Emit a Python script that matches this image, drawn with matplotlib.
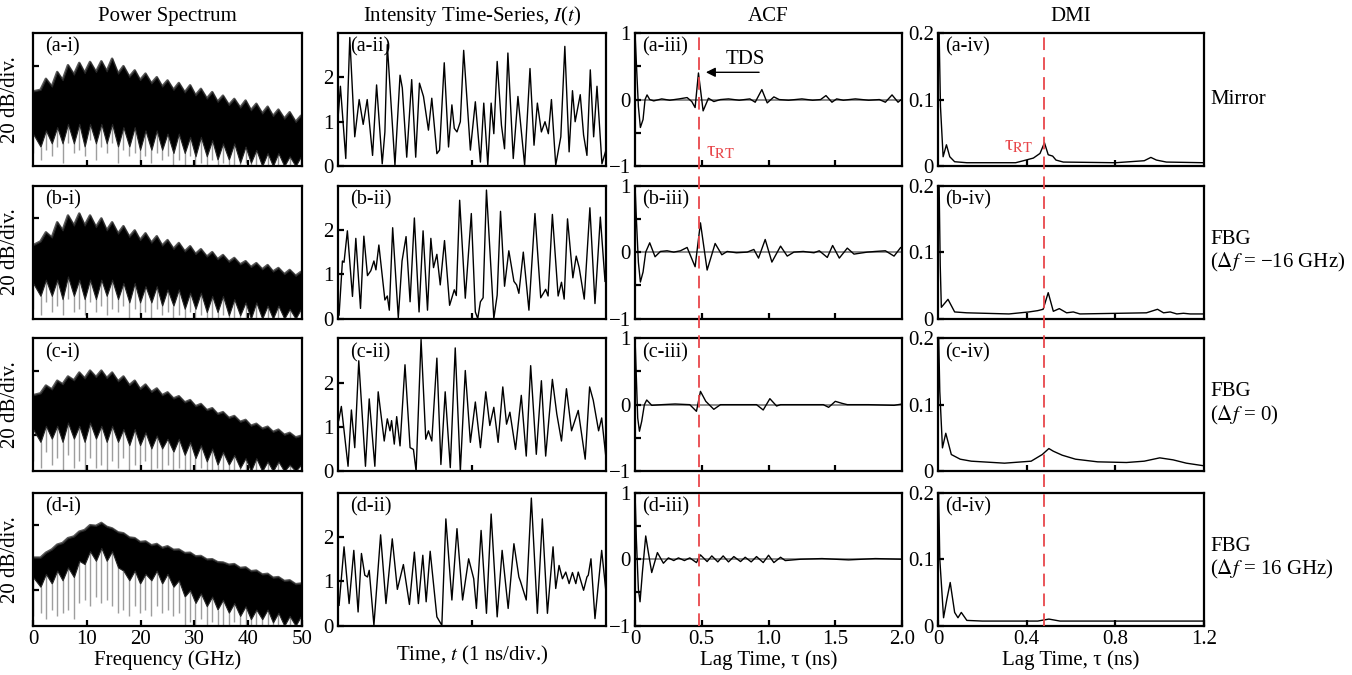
import matplotlib.pyplot as plt
import matplotlib.transforms as mtransforms
from matplotlib.lines import Line2D

plt.rcParams['font.family'] = ['Liberation Serif', 'DejaVu Serif']
plt.rcParams['mathtext.fontset'] = 'stix'
plt.rcParams['axes.linewidth'] = 1.6
plt.rcParams['xtick.direction'] = 'in'
plt.rcParams['ytick.direction'] = 'in'
plt.rcParams['xtick.major.size'] = 4
plt.rcParams['ytick.major.size'] = 4
plt.rcParams['ytick.minor.size'] = 4
plt.rcParams['xtick.major.width'] = 1.6
plt.rcParams['ytick.major.width'] = 1.6
plt.rcParams['ytick.minor.width'] = 1.6

# ---------------- power spectrum (dB, 20 dB/div) ----------------
ps_freq = [0.0, 1.4, 2.4, 3.5, 4.5, 5.5, 6.5, 7.6, 8.6, 9.6, 10.6, 11.7, 12.7, 13.7, 14.7,
           15.8, 16.8, 17.9, 18.9, 19.9, 20.9, 22.0, 23.0, 24.0, 25.0, 26.1, 27.1, 28.2,
           29.2, 30.2, 31.2, 32.3, 33.3, 34.3, 35.3, 36.4, 37.4, 38.5, 39.5, 40.5, 41.5,
           42.6, 43.6, 44.6, 45.6, 46.7, 47.7, 48.8, 49.8, 50.0]

ps_top_a = [-18.0, -17.5, -14.1, -16.5, -12.0, -14.5, -9.9, -12.8, -9.2, -12.3,
            -8.9, -12.0, -8.7, -11.8, -7.9, -12.5, -10.2, -13.5, -11.5, -14.5,
            -12.5, -15.5, -13.6, -16.5, -14.6, -17.5, -15.4, -18.3, -16.1, -19.2,
            -17.2, -20.2, -18.2, -21.2, -19.3, -22.2, -20.3, -23.0, -20.8, -23.8,
            -21.8, -24.8, -22.7, -25.6, -23.6, -26.4, -24.4, -27.4, -25.5, -27.0]
ps_low_a = [-31, -35, -30, -34, -29, -34, -28, -34, -28, -35,
            -28, -34, -28, -34, -28, -35, -29, -35, -29, -36,
            -30, -36, -30, -36, -31, -37, -31, -37, -32, -38,
            -32, -38, -33, -39, -34, -39, -34, -40, -35, -40,
            -36, -41, -37, -41, -37, -41, -38, -41, -38, -39]
ps_dip_a = [-37, -39, -36, -38, -35, -40, -34, -37, -36, -38,
            -33, -39, -35, -37, -34, -40, -36, -38, -37, -40,
            -38, -40, -37, -39, -38, -41, -39, -41, -38, -41,
            -40, -41, -39, -41, -40, -41, -41, -41, -40, -41,
            -41, -41, -41, -41, -41, -41, -41, -41, -41, -41]

ps_top_b = [-18.4, -17.2, -14.4, -16.0, -11.3, -13.8, -9.2, -12.3, -8.6, -12.3,
            -9.2, -12.8, -10.1, -13.8, -11.3, -14.8, -12.5, -15.8, -13.8, -16.8,
            -14.7, -17.6, -15.6, -18.5, -16.8, -19.5, -17.7, -20.3, -18.7, -21.1,
            -19.6, -21.9, -20.5, -22.7, -21.4, -23.5, -22.3, -24.3, -23.3, -25.1,
            -23.9, -25.8, -24.5, -26.5, -25.4, -27.3, -26.0, -27.8, -26.6, -28.0]
ps_low_b = [-30, -34, -29, -34, -29, -35, -28, -34, -29, -35,
            -29, -35, -29, -34, -29, -35, -30, -36, -30, -36,
            -31, -36, -31, -37, -32, -37, -32, -38, -33, -38,
            -33, -39, -34, -39, -34, -40, -35, -40, -36, -41,
            -36, -41, -37, -41, -37, -41, -38, -41, -38, -39]
ps_dip_b = [-38, -40, -36, -39, -37, -40, -35, -39, -38, -40,
            -36, -39, -37, -40, -38, -39, -37, -41, -38, -40,
            -39, -41, -38, -40, -39, -41, -40, -41, -39, -41,
            -40, -41, -41, -41, -40, -41, -41, -41, -41, -41,
            -41, -41, -41, -41, -41, -41, -41, -41, -41, -41]

ps_top_c = [-17.6, -17.0, -14.6, -15.8, -13.1, -14.2, -11.8, -13.0, -10.6, -12.4,
            -10.0, -12.0, -10.0, -12.3, -10.6, -13.3, -11.8, -14.5, -13.1, -15.7,
            -14.3, -16.6, -15.5, -17.6, -16.7, -18.6, -17.9, -19.8, -19.1, -21.0,
            -20.3, -22.2, -21.6, -23.4, -22.8, -24.6, -24.0, -25.8, -25.2, -27.0,
            -26.4, -27.9, -27.3, -28.9, -28.2, -29.8, -29.2, -30.6, -30.1, -30.5]
ps_low_c = [-28, -32, -27, -31, -27, -32, -26, -31, -27, -32,
            -26, -31, -27, -32, -27, -32, -28, -33, -28, -33,
            -29, -34, -30, -34, -31, -35, -31, -36, -32, -37,
            -33, -38, -34, -39, -35, -39, -36, -40, -37, -41,
            -37, -41, -38, -41, -38, -41, -39, -41, -39, -40]
ps_dip_c = [-38, -40, -35, -39, -37, -41, -36, -40, -38, -41,
            -37, -40, -39, -41, -38, -40, -37, -41, -39, -41,
            -38, -41, -40, -41, -39, -41, -40, -41, -41, -41,
            -40, -41, -41, -41, -41, -41, -41, -41, -41, -41,
            -41, -41, -41, -41, -41, -41, -41, -41, -41, -41]

ps_top_d = [-20.0, -20.0, -18.5, -17.5, -16.0, -15.5, -14.0, -13.5, -12.0, -11.5,
            -10.0, -10.2, -9.3, -10.5, -11.0, -12.2, -12.5, -13.8, -14.0, -15.2,
            -15.0, -16.2, -15.8, -17.0, -16.5, -17.6, -17.5, -18.6, -18.5, -19.6,
            -19.5, -20.6, -20.5, -21.4, -21.5, -22.2, -22.0, -23.2, -23.0, -24.2,
            -24.0, -25.2, -25.0, -26.2, -26.0, -27.2, -27.0, -28.2, -28.0, -28.5]
ps_low_d = [-26, -29, -25, -28, -24, -27, -23, -26, -21, -22,
            -18, -21, -17, -21, -18, -23, -24, -27, -24, -28,
            -25, -27, -24, -28, -25, -29, -27, -32, -30, -34,
            -31, -35, -32, -36, -33, -37, -34, -38, -35, -39,
            -36, -39, -36, -40, -37, -41, -38, -41, -38, -39]
ps_dip_d = [-38, -37, -39, -36, -38, -37, -36, -39, -34, -33,
            -35, -32, -34, -33, -35, -37, -36, -38, -35, -37,
            -36, -38, -35, -37, -36, -38, -37, -41, -40, -41,
            -39, -41, -40, -41, -41, -41, -40, -41, -41, -41,
            -41, -41, -41, -41, -41, -41, -41, -41, -41, -41]

# ---------------- intensity time series (time in ps) ----------------
ts_t_a = [0, 18, 58, 88, 125, 158, 188, 218, 258, 288, 330, 350, 368, 425, 463, 480, 513,
          550, 580, 608, 638, 675, 700, 738, 758, 793, 825, 850, 868, 888, 913, 938, 988,
          1025, 1063, 1088, 1118, 1143, 1163, 1188, 1220, 1243, 1268, 1308, 1343, 1393,
          1433, 1463, 1488, 1518, 1545, 1570, 1593, 1625, 1663, 1693, 1725, 1750, 1770,
          1808, 1833, 1858, 1883, 1908, 1933, 1970, 2000]
ts_i_a = [1.07, 1.8, 0.17, 2.9, 0.66, 1.5, 0.94, 1.5, 0.24, 1.83, 0.05, 0.77, 2.74, 0.02,
          2.05, 1.76, 0.2, 1.95, 0.2, 1.87, 1.57, 0.81, 1.53, 0.28, 0.36, 2.33, 0.43, 1.38,
          0.85, 0.77, 1.0, 2.61, 0.36, 1.45, 0.09, 1.42, 0.02, 1.42, 0.73, 2.36, 0.92, 0.39,
          2.55, 0.17, 1.57, 0.02, 2.2, 0.47, 1.42, 0.77, 1.0, 0.73, 1.5, 0.02, 0.66, 2.7,
          0.32, 1.7, 1.0, 1.61, 0.7, 0.24, 2.17, 0.66, 1.8, 0.05, 0.36]

ts_t_b = [8, 33, 45, 70, 108, 133, 168, 193, 220, 245, 268, 283, 305, 350, 368, 383, 408,
          450, 478, 508, 538, 570, 605, 635, 668, 693, 713, 738, 763, 795, 833, 868, 883,
          908, 950, 995, 1025, 1043, 1063, 1083, 1108, 1163, 1188, 1213, 1243, 1275, 1313,
          1333, 1350, 1383, 1425, 1470, 1513, 1550, 1568, 1600, 1643, 1668, 1688, 1713,
          1753, 1778, 1800, 1838, 1880, 1918, 1958, 1993]
ts_i_b = [0.08, 1.3, 1.27, 1.98, 0.5, 1.81, 0.23, 1.86, 0.97, 1.08, 1.3, 1.1, 1.66, 0.42,
          0.51, 0.19, 2.05, 0.02, 1.3, 1.85, 0.38, 2.27, 0.15, 1.98, 0.19, 1.81, 1.15, 1.45,
          0.76, 1.76, 0.3, 0.65, 0.52, 2.67, 0.46, 2.37, 0.15, 0.0, 0.38, 0.47, 2.9, 0.0,
          0.53, 2.42, 0.73, 1.53, 0.84, 0.76, 0.57, 1.5, 0.19, 2.37, 0.47, 0.66, 0.51, 2.35,
          0.51, 0.82, 0.44, 2.25, 0.92, 1.41, 1.15, 0.44, 2.5, 0.34, 2.29, 0.84]

ts_t_c = [5, 25, 75, 100, 125, 155, 205, 233, 275, 300, 345, 368, 388, 400, 420, 438, 463,
          500, 538, 563, 583, 620, 655, 675, 700, 738, 768, 800, 838, 875, 913, 950, 988,
          1025, 1063, 1103, 1133, 1163, 1195, 1230, 1258, 1283, 1325, 1368, 1405, 1438,
          1480, 1518, 1550, 1600, 1633, 1668, 1705, 1743, 1793, 1845, 1878, 1905, 1945,
          1968, 2000]
ts_i_c = [1.14, 1.46, 0.11, 1.38, 0.53, 2.49, 0.11, 1.63, 0.11, 1.79, 0.68, 1.18, 0.91,
          1.14, 0.61, 1.23, 0.57, 2.4, 0.53, 0.49, 0.0, 2.97, 0.72, 0.91, 0.68, 2.55, 0.15,
          1.79, 0.08, 2.78, 0.0, 2.27, 0.65, 1.56, 0.53, 1.79, 1.03, 1.44, 0.65, 1.9, 1.06,
          1.33, 0.49, 1.71, 0.34, 2.38, 0.38, 2.04, 0.34, 2.07, 1.29, 0.68, 1.86, 0.91,
          1.37, 0.27, 1.9, 1.6, 0.91, 1.2, 0.3]

ts_t_d = [8, 45, 83, 118, 150, 175, 200, 220, 233, 268, 318, 358, 405, 443, 488, 533, 570,
          600, 633, 658, 688, 738, 775, 805, 850, 888, 930, 975, 1013, 1033, 1068, 1108,
          1143, 1188, 1225, 1270, 1313, 1350, 1363, 1405, 1443, 1488, 1525, 1563, 1605,
          1625, 1650, 1675, 1700, 1725, 1750, 1775, 1793, 1833, 1858, 1868, 1888, 1918,
          1968, 2000]
ts_i_d = [0.46, 1.78, 0.5, 1.7, 0.31, 1.63, 1.14, 1.1, 1.25, 0.01, 2.05, 0.5, 1.96, 0.82,
          1.38, 0.48, 1.66, 0.5, 1.59, 0.54, 1.68, 0.2, 0.01, 2.41, 0.58, 2.19, 0.58, 1.51,
          1.06, 0.39, 2.15, 0.28, 2.52, 0.2, 1.7, 0.39, 1.85, 1.1, 0.99, 0.58, 2.88, 0.28,
          2.41, 0.28, 1.78, 0.84, 1.36, 1.06, 1.21, 0.95, 1.2, 0.95, 1.21, 0.8, 1.1, 1.14,
          1.51, 0.16, 1.7, 0.76]

# ---------------- ACF ----------------
acf_lag_a = [0, 0.01, 0.025, 0.04, 0.06, 0.075, 0.09, 0.11, 0.14, 0.2, 0.26, 0.33, 0.39,
             0.425, 0.45, 0.475, 0.51, 0.55, 0.59, 0.64, 0.7, 0.78, 0.86, 0.9, 0.95, 0.99,
             1.04, 1.08, 1.15, 1.25, 1.33, 1.39, 1.43, 1.475, 1.51, 1.56, 1.65, 1.75, 1.83,
             1.875, 1.925, 1.97, 2.0]
acf_val_a = [1.0, 0.55, -0.1, -0.42, -0.3, 0.0, 0.07, 0.0, -0.02, 0.01, -0.01, 0.01, 0.03,
             -0.03, -0.12, 0.40, -0.17, 0.02, -0.03, 0.0, 0.01, -0.01, 0.01, -0.04, 0.15,
             -0.05, 0.04, 0.0, -0.01, 0.01, -0.01, 0.0, 0.06, -0.04, 0.01, -0.01, 0.01,
             -0.01, 0.0, -0.04, 0.07, -0.04, 0.01]

acf_lag_b = [0, 0.01, 0.025, 0.04, 0.06, 0.08, 0.11, 0.15, 0.19, 0.24, 0.29, 0.34, 0.39,
             0.45, 0.49, 0.54, 0.6, 0.65, 0.69, 0.76, 0.84, 0.89, 0.925, 0.975, 1.025, 1.09,
             1.14, 1.19, 1.26, 1.34, 1.38, 1.44, 1.48, 1.53, 1.59, 1.64, 1.74, 1.8, 1.875,
             1.94, 1.99, 2.0]
acf_val_b = [1.0, 0.5, -0.15, -0.45, -0.3, 0.0, 0.14, -0.07, 0.01, 0.02, 0.0, 0.02, 0.07,
             -0.22, 0.44, -0.27, 0.13, -0.04, 0.01, -0.01, 0.0, 0.04, -0.09, 0.19, -0.15,
             0.09, -0.06, 0.0, 0.01, -0.01, 0.02, -0.08, 0.10, -0.09, 0.06, -0.03, 0.0, 0.01,
             0.02, -0.06, 0.07, 0.06]

acf_lag_c = [0, 0.01, 0.02, 0.033, 0.05, 0.07, 0.0875, 0.125, 0.2, 0.3, 0.41, 0.46, 0.49,
             0.53, 0.59, 0.64, 0.75, 0.91, 0.96, 1.01, 1.06, 1.09, 1.25, 1.41, 1.45, 1.5,
             1.55, 1.59, 1.75, 1.94, 2.0]
acf_val_c = [1.0, 0.4, -0.2, -0.4, -0.25, 0.0, 0.07, -0.01, 0.0, 0.01, 0.0, -0.1, 0.2,
             0.05, -0.07, 0.0, 0.0, 0.0, -0.08, 0.09, -0.02, 0.0, 0.0, 0.0, -0.04, 0.05,
             0.02, 0.0, 0.0, -0.01, 0.01]

acf_lag_d = [0, 0.01, 0.025, 0.0375, 0.055, 0.08, 0.1, 0.125, 0.1675, 0.2125, 0.25, 0.29,
             0.325, 0.37, 0.41, 0.46, 0.49, 0.54, 0.575, 0.62, 0.66, 0.7, 0.74, 0.79, 0.825,
             0.87, 0.91, 0.96, 1.0, 1.04, 1.09, 1.125, 1.24, 1.4, 1.6, 1.8, 2.0]
acf_val_d = [1.0, 0.3, -0.45, -0.64, -0.2, 0.35, 0.1, -0.2, 0.1, -0.06, 0.02, -0.02, 0.02,
             -0.02, 0.02, -0.05, 0.065, -0.035, 0.05, -0.04, 0.05, -0.04, 0.04, -0.035, 0.03,
             -0.04, 0.04, -0.05, 0.06, -0.05, 0.03, -0.02, 0.0, 0.01, -0.01, 0.01, 0.0]

# ---------------- DMI ----------------
dmi_lag_a = [0, 0.005, 0.011, 0.023, 0.038, 0.053, 0.075, 0.13, 0.35, 0.385, 0.43, 0.46,
             0.48, 0.497, 0.517, 0.532, 0.565, 0.8, 0.93, 0.96, 0.985, 1.03, 1.2]
dmi_val_a = [0.25, 0.2, 0.09, 0.014, 0.032, 0.014, 0.0065, 0.005, 0.005, 0.008, 0.012,
             0.019, 0.035, 0.017, 0.015, 0.009, 0.006, 0.005, 0.008, 0.013, 0.009, 0.006,
             0.005]

dmi_lag_b = [0, 0.005, 0.01, 0.015, 0.045, 0.075, 0.13, 0.32, 0.41, 0.45, 0.474, 0.497,
             0.52, 0.547, 0.58, 0.61, 0.64, 0.94, 0.99, 1.017, 1.047, 1.077, 1.107, 1.137,
             1.2]
dmi_val_b = [0.25, 0.2, 0.08, 0.017, 0.029, 0.010, 0.0087, 0.007, 0.010, 0.012, 0.014,
             0.039, 0.011, 0.015, 0.0087, 0.010, 0.007, 0.0087, 0.014, 0.0087, 0.010, 0.007,
             0.008, 0.007, 0.007]

dmi_lag_c = [0, 0.008, 0.02, 0.035, 0.06, 0.1, 0.15, 0.3, 0.42, 0.47, 0.5, 0.52, 0.56,
             0.62, 0.72, 0.85, 0.93, 1.0, 1.06, 1.12, 1.2]
dmi_val_c = [0.25, 0.12, 0.035, 0.057, 0.025, 0.018, 0.015, 0.012, 0.015, 0.025, 0.034,
             0.03, 0.024, 0.018, 0.014, 0.013, 0.015, 0.02, 0.017, 0.012, 0.008]

dmi_lag_d = [0, 0.008, 0.025, 0.04, 0.055, 0.075, 0.09, 0.105, 0.13, 0.2, 0.45, 0.5, 0.55,
             0.8, 1.2]
dmi_val_d = [0.25, 0.1, 0.012, 0.04, 0.065, 0.02, 0.012, 0.02, 0.008, 0.007, 0.007, 0.01,
             0.007, 0.007, 0.007]

tau_rt = 0.48
row_keys = ["a", "b", "c", "d"]
row_names = ["Mirror", "FBG\n($\\Delta f$ = \u221216 GHz)", "FBG\n($\\Delta f$ = 0)",
             "FBG\n($\\Delta f$ = 16 GHz)"]

ps_tops = [ps_top_a, ps_top_b, ps_top_c, ps_top_d]
ps_lows = [ps_low_a, ps_low_b, ps_low_c, ps_low_d]
ps_dips = [ps_dip_a, ps_dip_b, ps_dip_c, ps_dip_d]
ts_ts = [ts_t_a, ts_t_b, ts_t_c, ts_t_d]
ts_is = [ts_i_a, ts_i_b, ts_i_c, ts_i_d]
acf_lags = [acf_lag_a, acf_lag_b, acf_lag_c, acf_lag_d]
acf_vals = [acf_val_a, acf_val_b, acf_val_c, acf_val_d]
dmi_lags = [dmi_lag_a, dmi_lag_b, dmi_lag_c, dmi_lag_d]
dmi_vals = [dmi_val_a, dmi_val_b, dmi_val_c, dmi_val_d]

# layout (figure fractions)
col_x = [(0.0244, 0.1990), (0.2500, 0.1982), (0.4697, 0.1975), (0.6938, 0.1968)]
row_y = [0.754, 0.528, 0.302, 0.073]
row_h = 0.197
lab_off = [0.045, 0.045, 0.026, 0.026]
roman = ["i", "ii", "iii", "iv"]

fig = plt.figure(figsize=(13.52, 6.75), dpi=100)
axes = [[None] * 4 for _ in range(4)]

for r in range(4):
    bottom = (r == 3)
    for c in range(4):
        ax = fig.add_axes([col_x[c][0], row_y[r], col_x[c][1], row_h])
        axes[r][c] = ax
        ax.tick_params(labelsize=15, pad=3)

        if c == 0:
            ax.vlines(ps_freq, ps_dips[r], ps_lows[r], color="0.62", lw=1.0, zorder=1)
            ax.plot(ps_freq, ps_tops[r], color="0.35", lw=1.8, zorder=1.5)
            ax.fill_between(ps_freq, ps_lows[r], ps_tops[r], color="k", lw=0.8,
                            edgecolor="0.15", zorder=2)
            ax.set_xlim(0, 50)
            ax.set_ylim(-41, 0)
            ax.set_yticks([-30, -10])
            ax.set_yticklabels([])
            ax.set_ylabel("20 dB/div.", fontsize=15, labelpad=6)
            if bottom:
                ax.set_xticks([0, 10, 20, 30, 40, 50])
                ax.set_xlabel("Frequency (GHz)", fontsize=15, labelpad=1)
            else:
                ax.set_xticks([10, 20, 30, 40])
                ax.set_xticklabels([])
        elif c == 1:
            ax.plot(ts_ts[r], ts_is[r], color="k", lw=1.0)
            ax.set_xlim(0, 2000)
            ax.set_ylim(0, 3.0)
            ax.set_xticks([1000])
            ax.set_xticklabels([])
            ax.set_yticks([0, 1, 2])
            if bottom:
                ax.set_xlabel("Time, $t$ (1 ns/div.)", fontsize=15)
                ax.xaxis.set_label_coords(0.5, -0.135)
        elif c == 2:
            ax.axhline(0, color="0.55", lw=1.4, zorder=1)
            ax.plot(acf_lags[r], acf_vals[r], color="k", lw=1.0, zorder=2)
            ax.set_xlim(0, 2)
            ax.set_ylim(-1, 1)
            ax.set_yticks([-1, 0, 1])
            ax.set_yticklabels(["\u22121", "0", "1"])
            ax.set_yticks([-0.5, 0.5], minor=True)
            if bottom:
                ax.set_xticks([0, 0.5, 1.0, 1.5, 2.0])
                ax.set_xticklabels(["0", "0.5", "1.0", "1.5", "2.0"])
                ax.set_xlabel("Lag Time, \u03c4 (ns)", fontsize=15, labelpad=1)
            else:
                ax.set_xticks([0.5, 1.0, 1.5])
                ax.set_xticklabels([])
        else:
            ax.plot(dmi_lags[r], dmi_vals[r], color="k", lw=1.0)
            ax.set_xlim(0, 1.2)
            ax.set_ylim(0, 0.2)
            ax.set_yticks([0, 0.1, 0.2])
            ax.set_yticklabels(["0", "0.1", "0.2"])
            if bottom:
                ax.set_xticks([0, 0.4, 0.8, 1.2])
                ax.set_xticklabels(["0", "0.4", "0.8", "1.2"])
                ax.set_xlabel("Lag Time, \u03c4 (ns)", fontsize=15, labelpad=1)
            else:
                ax.set_xticks([0.4, 0.8])
                ax.set_xticklabels([])

        ax.text(lab_off[c], 0.965, "(%s-%s)" % (row_keys[r], roman[c]),
                transform=ax.transAxes, ha="left", va="top", fontsize=14.5, zorder=5)

    fig.text(0.895, row_y[r] + row_h / 2, row_names[r], fontsize=15,
             ha="left", va="center", linespacing=1.15)

titles = ["Power Spectrum", "Intensity Time-Series, $I$($t$)", "ACF", "DMI"]
for c in range(4):
    axes[0][c].set_title(titles[c], fontsize=15, pad=9)

# round-trip time markers spanning all rows
red = "#e8474b"
for c in (2, 3):
    trans = mtransforms.blended_transform_factory(axes[0][c].transData, fig.transFigure)
    fig.add_artist(Line2D([tau_rt, tau_rt], [row_y[3], row_y[0] + row_h],
                          transform=trans, color=red, lw=1.3,
                          linestyle=(0, (7, 4)), zorder=10))

axes[0][2].text(tau_rt + 0.05, -0.79, "\u03c4$_{\\rm RT}$", color=red, fontsize=15,
                ha="left", va="center")
axes[0][3].text(tau_rt - 0.05, 0.03, "\u03c4$_{\\rm RT}$", color=red, fontsize=15,
                ha="right", va="center")

# TDS annotation
axes[0][2].annotate("", xy=(0.51, 0.41), xytext=(0.95, 0.41),
                    arrowprops=dict(arrowstyle="-|>", color="k", lw=1.0,
                                    mutation_scale=14))
axes[0][2].text(0.675, 0.46, "TDS", fontsize=15, ha="left", va="bottom")

fig.savefig("out.png", dpi=100)
